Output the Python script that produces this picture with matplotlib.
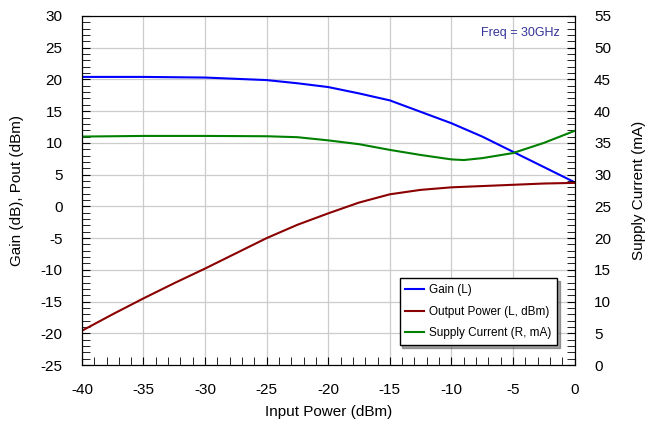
import numpy as np
import matplotlib
matplotlib.use("Agg")
import matplotlib.pyplot as plt
from matplotlib.ticker import MultipleLocator

plt.rcParams['font.family'] = ['Liberation Sans', 'DejaVu Sans']
plt.rcParams['axes.unicode_minus'] = False

pin_g = [-40, -35, -30, -27.5, -25, -22.5, -20, -17.5, -15, -12.5, -10, -7.5, -5, -2.5, 0]
gain = [20.4, 20.4, 20.3, 20.1, 19.9, 19.4, 18.8, 17.8, 16.7, 14.9, 13.1, 11.0, 8.6, 6.2, 3.8]
pin_p = [-40, -37.5, -35, -32.5, -30, -27.5, -25, -22.5, -20, -17.5, -15, -12.5, -10, -7.5, -5, -2.5, 0]
pout = [-19.6, -17.0, -14.5, -12.1, -9.8, -7.4, -5.0, -2.9, -1.1, 0.6, 1.9, 2.6, 3.0, 3.2, 3.4, 3.6, 3.7]
pin_i = [-40, -35, -30, -25, -22.5, -20, -17.5, -15, -12.5, -10, -9, -7.5, -5, -2.5, 0]
current = [36.0, 36.1, 36.1, 36.05, 35.9, 35.4, 34.8, 33.9, 33.1, 32.4, 32.3, 32.6, 33.4, 35.0, 36.9]

fig = plt.figure(figsize=(6.5, 4.21), dpi=100)
ax = fig.add_axes([0.126, 0.133, 0.758, 0.829])
ax2 = ax.twinx()

l1, = ax.plot(pin_g, gain, color='#0000ff', lw=1.5, label='Gain (L)')
l2, = ax.plot(pin_p, pout, color='#8b0000', lw=1.5, label='Output Power (L, dBm)')
l3, = ax2.plot(pin_i, current, color='#008000', lw=1.5, label='Supply Current (R, mA)')

ax.set_xlim(-40, 0)
ax.set_ylim(-25, 30)
ax2.set_ylim(0, 55)
ax.xaxis.set_major_locator(MultipleLocator(5))
ax.xaxis.set_minor_locator(MultipleLocator(1))
ax.yaxis.set_major_locator(MultipleLocator(5))
ax.yaxis.set_minor_locator(MultipleLocator(1))
ax2.yaxis.set_major_locator(MultipleLocator(5))
ax2.yaxis.set_minor_locator(MultipleLocator(1))
ax.grid(True, which='major', color='#cccccc', lw=0.9)
ax.set_axisbelow(True)

for a in (ax, ax2):
    a.tick_params(which='both', direction='in', labelsize=11, top=False, length=6)
    a.tick_params(which='major', pad=14)
ax.tick_params(axis='x', pad=13)

ax.set_xlabel('Input Power (dBm)', fontsize=11, labelpad=6)
ax.set_ylabel('Gain (dB), Pout (dBm)', fontsize=11, labelpad=12)
ax2.set_ylabel('Supply Current (mA)', fontsize=11, labelpad=15)

ax.text(0.970, 0.951, 'Freq = 30GHz', transform=ax.transAxes, ha='right', va='center',
        fontsize=9, color='#333399')

leg = ax2.legend(handles=[l1, l2, l3], loc='lower right', bbox_to_anchor=(0.977, 0.040),
                 fontsize=8.5, frameon=True, fancybox=False, shadow=True,
                 handlelength=1.6, handletextpad=0.4, borderpad=0.5, labelspacing=0.8)
leg.get_frame().set_edgecolor('black')
leg.get_frame().set_linewidth(1.0)

fig.savefig('out.png', dpi=100)
